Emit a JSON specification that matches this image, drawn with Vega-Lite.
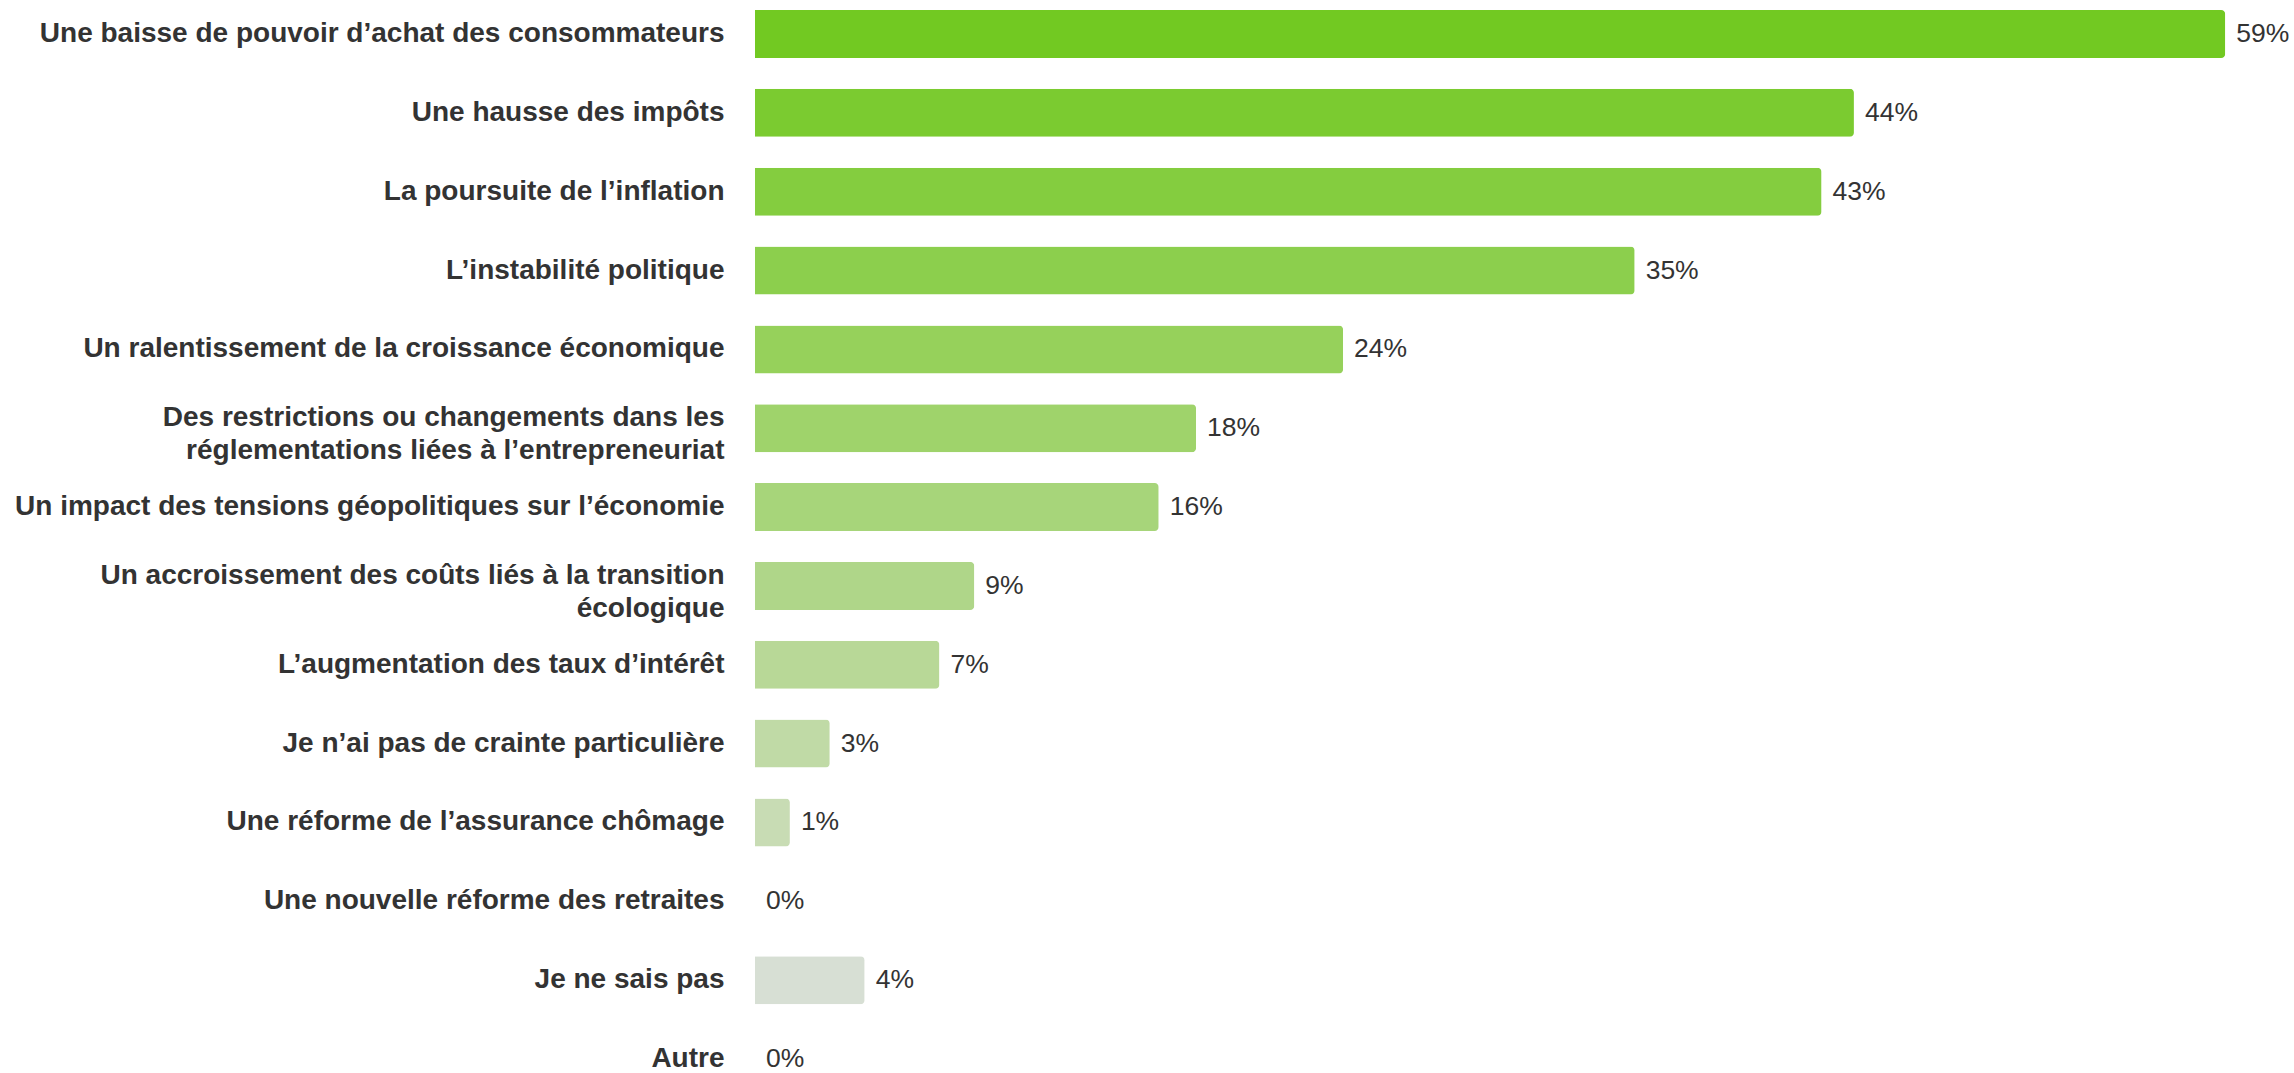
{
  "$schema": "https://vega.github.io/schema/vega-lite/v6.json",
  "autosize": {"type": "none"},
  "width": 1539,
  "height": 1073,
  "padding": {"left": 755, "top": 0, "right": 0, "bottom": 0},
  "background": "#ffffff",
  "config": {"view": {"stroke": null}, "font": "Liberation Sans"},
  "data": {
    "values": [
      {"item": "Une baisse de pouvoir d’achat des consommateurs", "value": 0.590},
      {"item": "Une hausse des impôts", "value": 0.441},
      {"item": "La poursuite de l’inflation", "value": 0.428},
      {"item": "L’instabilité politique", "value": 0.353},
      {"item": "Un ralentissement de la croissance économique", "value": 0.236},
      {"item": "Des restrictions ou changements dans les réglementations liées à l’entrepreneuriat", "value": 0.177},
      {"item": "Un impact des tensions géopolitiques sur l’économie", "value": 0.162},
      {"item": "Un accroissement des coûts liés à la transition écologique", "value": 0.088},
      {"item": "L’augmentation des taux d’intérêt", "value": 0.074},
      {"item": "Je n’ai pas de crainte particulière", "value": 0.030},
      {"item": "Une réforme de l’assurance chômage", "value": 0.014},
      {"item": "Une nouvelle réforme des retraites", "value": 0.0},
      {"item": "Je ne sais pas", "value": 0.044},
      {"item": "Autre", "value": 0.0}
    ]
  },
  "encoding": {
    "y": {
      "field": "item",
      "type": "nominal",
      "sort": null,
      "scale": {"range": [0, 1093], "paddingInner": 0.391, "paddingOuter": 0.127},
      "axis": {
        "title": null,
        "domain": false,
        "ticks": false,
        "tickSize": 0,
        "labelPadding": 31,
        "labelFontSize": 28,
        "labelFontWeight": "bold",
        "labelColor": "#333333",
        "labelLimit": 900,
        "labelLineHeight": 33,
        "labelOffset": {
          "condition": {"test": "indexof(datum.label, 'Des restrictions') == 0 || indexof(datum.label, 'Un accroissement') == 0", "value": -10},
          "value": 0
        },
        "labelExpr": "datum.label == 'Des restrictions ou changements dans les réglementations liées à l’entrepreneuriat' ? ['Des restrictions ou changements dans les', 'réglementations liées à l’entrepreneuriat'] : (datum.label == 'Un accroissement des coûts liés à la transition écologique' ? ['Un accroissement des coûts liés à la transition', 'écologique'] : datum.label)"
      }
    }
  },
  "layer": [
    {
      "mark": {"type": "bar", "cornerRadiusTopRight": 4, "cornerRadiusBottomRight": 4},
      "encoding": {
        "x": {"field": "value", "type": "quantitative", "scale": {"domain": [0, 0.6176], "nice": false, "zero": true}, "axis": null},
        "color": {
          "field": "item",
          "type": "nominal",
          "sort": null,
          "legend": null,
          "scale": {
            "domain": [
              "Une baisse de pouvoir d’achat des consommateurs",
              "Une hausse des impôts",
              "La poursuite de l’inflation",
              "L’instabilité politique",
              "Un ralentissement de la croissance économique",
              "Des restrictions ou changements dans les réglementations liées à l’entrepreneuriat",
              "Un impact des tensions géopolitiques sur l’économie",
              "Un accroissement des coûts liés à la transition écologique",
              "L’augmentation des taux d’intérêt",
              "Je n’ai pas de crainte particulière",
              "Une réforme de l’assurance chômage",
              "Une nouvelle réforme des retraites",
              "Je ne sais pas",
              "Autre"
            ],
            "range": ["#72C922", "#7BCB30", "#84CD3F", "#8CCF4D", "#96D15B", "#9FD36B", "#A7D57A", "#AFD689", "#B8D897", "#C0DAA6", "#C8DCB4", "#D0DDC3", "#D7DFD4", "#DDE0DD"]
          }
        }
      }
    },
    {
      "mark": {"type": "text", "align": "left", "baseline": "middle", "dx": 11, "fontSize": 26.5, "color": "#333333"},
      "encoding": {
        "x": {"field": "value", "type": "quantitative"},
        "text": {"field": "value", "type": "quantitative", "format": ".0%"}
      }
    }
  ]
}
